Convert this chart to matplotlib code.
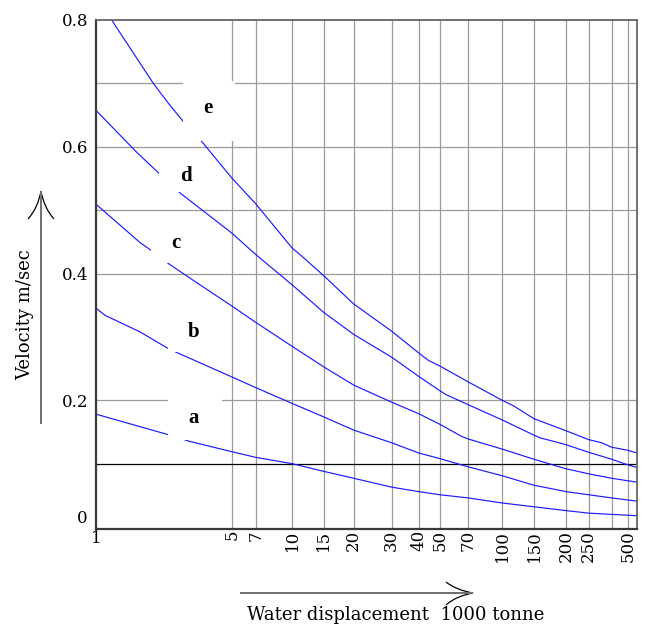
import numpy as np
import matplotlib
matplotlib.use("Agg")
import matplotlib.pyplot as plt
from matplotlib.patches import Rectangle, PathPatch
from matplotlib.path import Path
from matplotlib.lines import Line2D

plt.rcParams['font.family'] = ['DejaVu Serif']

# ---------------- data ----------------
x_a = [1, 2.34, 3.05, 5, 7, 10, 15, 20, 30, 40, 50, 70, 100, 150, 200, 250, 400, 600]
y_a = [0.178, 0.146, 0.135, 0.119, 0.110, 0.100, 0.088, 0.077, 0.063, 0.056, 0.051,
       0.046, 0.038, 0.032, 0.026, 0.022, 0.020, 0.018]

x_b = [1, 1.11, 1.68, 2.34, 2.62, 5, 7, 10, 15, 20, 30, 40, 50, 70, 100, 150, 200, 250, 400, 600]
y_b = [0.345, 0.334, 0.308, 0.282, 0.275, 0.237, 0.220, 0.195, 0.174, 0.153, 0.133,
       0.117, 0.108, 0.095, 0.081, 0.066, 0.056, 0.051, 0.046, 0.041]

x_c = [1, 1.68, 1.91, 2.35, 3.36, 5, 7, 10, 15, 20, 30, 40, 50, 64.7, 70, 100, 150, 200, 250, 400, 500, 600]
y_c = [0.509, 0.449, 0.437, 0.416, 0.384, 0.349, 0.323, 0.285, 0.253, 0.224, 0.197,
       0.179, 0.162, 0.143, 0.139, 0.123, 0.107, 0.092, 0.084, 0.077, 0.073, 0.071]

x_d = [1, 1.62, 2.11, 2.71, 5, 7, 10, 15, 20, 30, 40, 50, 53.7, 70, 100, 150, 158, 200, 250, 400, 500, 600]
y_d = [0.657, 0.591, 0.558, 0.527, 0.464, 0.430, 0.382, 0.339, 0.304, 0.268, 0.238,
       0.215, 0.209, 0.193, 0.169, 0.145, 0.141, 0.130, 0.118, 0.107, 0.098, 0.094]

x_e = [1.2, 1.97, 2.35, 2.81, 3.53, 5, 7, 10, 11.05, 15, 20, 30, 40, 44.3, 50, 70, 100,
       116, 150, 200, 250, 326, 400, 500, 600]
y_e = [0.80, 0.70, 0.669, 0.640, 0.607, 0.551, 0.510, 0.440, 0.430, 0.397, 0.352, 0.309,
       0.275, 0.263, 0.254, 0.229, 0.200, 0.191, 0.171, 0.152, 0.138, 0.133, 0.126, 0.121, 0.117]

curve_names = ['a', 'b', 'c', 'd', 'e']
curves_x = [x_a, x_b, x_c, x_d, x_e]
curves_y = [y_a, y_b, y_c, y_d, y_e]

x_grid = [5, 7, 10, 15, 20, 30, 40, 50, 70, 100, 150, 200, 250, 400, 500]
x_ticks = [1, 5, 7, 10, 15, 20, 30, 40, 50, 70, 100, 150, 200, 250, 400, 500]
x_tick_labels = ['1', '5', '7', '10', '15', '20', '30', '40', '50', '70', '100',
                 '150', '200', '250', '', '500']
y_grid = [0.2, 0.4, 0.5, 0.6, 0.7]
y_ticks = [0, 0.2, 0.4, 0.6, 0.8]
y_tick_labels = ['0', '0.2', '0.4', '0.6', '0.8']
ref_line = 0.1

# ---------------- layout ----------------
W, H = 654, 629
fig = plt.figure(figsize=(W / 100, H / 100), dpi=100)
L, R, T, B = 96.3, 636.7, 20.0, 529.3
ax = fig.add_axes([L / W, 1 - B / H, (R - L) / W, (B - T) / H])

# hand-drawn (irregular) logarithmic axis: anchor positions of the grid values
anchor_vals = [1, 5, 7, 10, 15, 20, 30, 40, 50, 70, 100, 150, 200, 250, 400, 500, 600]
anchor_pos = [96.3, 231.7, 255.7, 292.3, 323.5, 353.7, 391.7, 418.5, 440, 468.3,
              502.2, 534, 566, 588.7, 611.7, 628.3, 636.7]
lv = np.log10(anchor_vals)
tp = np.array(anchor_pos)
k0 = (tp[1] - tp[0]) / (lv[1] - lv[0])
k1 = (tp[-1] - tp[-2]) / (lv[-1] - lv[-2])
lv_ext = np.concatenate([[lv[0] - 6], lv, [lv[-1] + 6]])
tp_ext = np.concatenate([[tp[0] - 6 * k0], tp, [tp[-1] + 6 * k1]])


def fwd(x):
    x = np.clip(np.asarray(x, dtype=float), 1e-9, None)
    return np.interp(np.log10(x), lv_ext, tp_ext)


def inv(p):
    return 10 ** np.interp(np.asarray(p, dtype=float), tp_ext, lv_ext)


ax.set_xscale('function', functions=(fwd, inv))
ax.set_xlim(1, 600)
ax.set_ylim(-0.0035, 0.8)

grid_col = '#9a9a9a'
for gx in x_grid:
    ax.axvline(gx, color=grid_col, lw=0.9, zorder=1)
for gy in y_grid:
    ax.axhline(gy, color=grid_col, lw=0.9, zorder=1)
ax.axhline(ref_line, color='black', lw=0.9, zorder=2)

for xs, ys in zip(curves_x, curves_y):
    ax.plot(xs, ys, color='#1a1aff', lw=0.85, zorder=2, solid_joinstyle='miter')

# white label boxes (pixel rectangles) and labels
boxes = {'e': (183, 235, 81, 141), 'd': (159, 213, 158, 192), 'c': (151, 201, 221, 263),
         'b': (168, 218, 312, 352), 'a': (168, 222, 396, 440)}
label_pos = {'e': (208.3, 107.7), 'd': (185.7, 176), 'c': (175.7, 242.7),
             'b': (193.3, 331.7), 'a': (193.3, 418.3)}


def afx(px):
    return (px - L) / (R - L)


def afy(py):
    return (B - py) / (B - T)


for name in curve_names:
    x0, x1, y0, y1 = boxes[name]
    ax.add_patch(Rectangle((afx(x0), afy(y1)), afx(x1) - afx(x0), afy(y0) - afy(y1),
                           transform=ax.transAxes, facecolor='white', edgecolor='none',
                           zorder=3))
    px, py = label_pos[name]
    ax.text(afx(px), afy(py), name, transform=ax.transAxes, ha='center', va='center',
            fontsize=15, fontweight='bold', family=['Liberation Serif', 'DejaVu Serif'],
            zorder=4)

# ticks
ax.set_xticks(x_ticks, x_tick_labels)
ax.xaxis.set_minor_locator(matplotlib.ticker.NullLocator())
ax.set_yticks(y_ticks, y_tick_labels)
ax.tick_params(axis='x', length=0, pad=0.5, labelsize=12)
ax.tick_params(axis='y', length=0, pad=6, labelsize=12)
for lbl in ax.get_xticklabels()[1:]:
    lbl.set_rotation(90)
ax.get_yticklabels()[0].set_verticalalignment('bottom')

for s in ['left', 'bottom']:
    ax.spines[s].set_color('#3a3a3a')
    ax.spines[s].set_linewidth(1.6)
    ax.spines[s].set_zorder(5)
for s in ['top', 'right']:
    ax.spines[s].set_color('#666666')
    ax.spines[s].set_linewidth(1.3)
    ax.spines[s].set_zorder(5)

# axis titles and arrows (figure pixels)
def ffx(px):
    return px / W


def ffy(py):
    return 1 - py / H


fig.text(ffx(25), ffy(315), 'Velocity m/sec', rotation=90, ha='center', va='center',
         fontsize=13)
fig.text(ffx(396), ffy(615), 'Water displacement  1000 tonne', ha='center', va='center',
         fontsize=13)

shaft_col = '#6e6e6e'
fig.add_artist(Line2D([ffx(41), ffx(41)], [ffy(423), ffy(192)], color=shaft_col, lw=1.4,
                      transform=fig.transFigure))
fig.add_artist(Line2D([ffx(241), ffx(472)], [ffy(593), ffy(593)], color=shaft_col, lw=1.4,
                      transform=fig.transFigure))


def head(tip, ctrl1, end1, ctrl2, end2):
    verts = [end1, ctrl1, tip, ctrl2, end2]
    codes = [Path.MOVETO, Path.CURVE3, Path.CURVE3, Path.CURVE3, Path.CURVE3]
    verts = [(ffx(a), ffy(b)) for a, b in verts]
    fig.add_artist(PathPatch(Path(verts, codes), facecolor='none', edgecolor='black',
                             lw=0.9, transform=fig.transFigure))


head((41, 191), (38, 208), (28, 219), (44, 208), (54, 219))
head((473, 593), (456, 590), (446, 582), (456, 596), (446, 605))

fig.savefig('out.png', dpi=100, facecolor='white')
